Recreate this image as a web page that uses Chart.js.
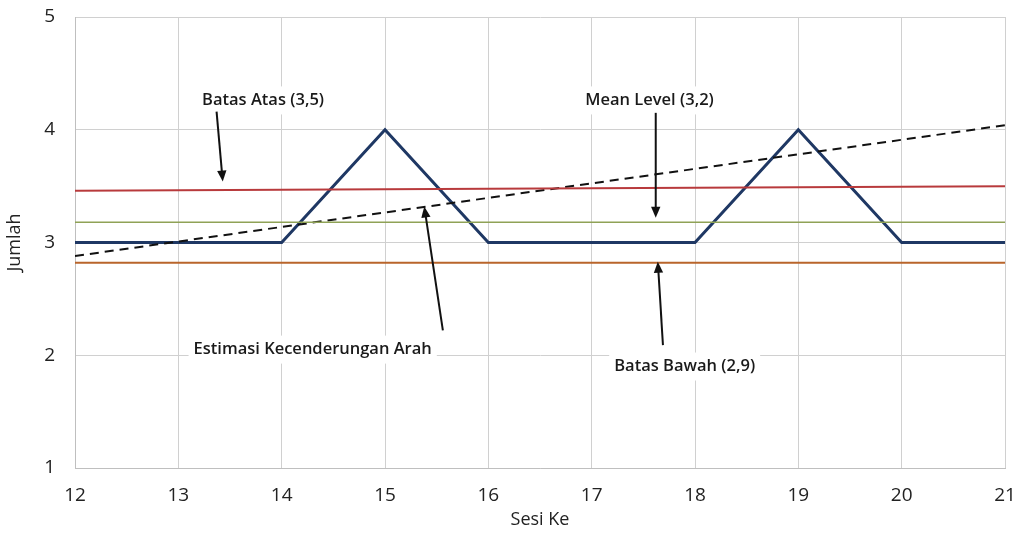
<!DOCTYPE html>
<html>
<head>
<meta charset="utf-8">
<script src="https://cdn.jsdelivr.net/npm/chart.js@4.4.1/dist/chart.umd.min.js"></script>
<style>
  html, body { margin: 0; padding: 0; background: #fff; }
  #wrap { width: 1027px; height: 535px; }
</style>
</head>
<body>
<div id="wrap"><canvas id="chart"></canvas></div>
<script>
// Session numbers and counts
const sessions = [12, 13, 14, 15, 16, 17, 18, 19, 20, 21];
const counts = [3, 3, 3, 4, 3, 3, 3, 4, 3, 3];

// Reference lines (start / end value across the sessions)
const upperLimit = [3.46, 3.5];   // Batas Atas
const meanLevel = [3.18, 3.18];   // Mean Level
const lowerLimit = [2.82, 2.82];  // Batas Bawah
const trendLine = [2.88, 4.04];   // Estimasi Kecenderungan Arah

// Annotation labels: text, label position, arrow tail, arrow tip (data units)
const noteTexts = ['Batas Atas (3,5)', 'Mean Level (3,2)', 'Estimasi Kecenderungan Arah', 'Batas Bawah (2,9)'];
const notePos = [[13.82, 4.26], [17.56, 4.26], [14.30, 2.05], [17.90, 1.90]];
const arrowFrom = [[13.37, 4.16], [17.62, 4.15], [15.56, 2.22], [17.69, 2.09]];
const arrowTo = [[13.43, 3.54], [17.62, 3.22], [15.38, 3.32], [17.64, 2.83]];

const FONT = "'Open Sans', 'Noto Sans', sans-serif";
const first = sessions[0], last = sessions[sessions.length - 1];

function ends(vals) {
    return [{ x: first, y: vals[0] }, { x: last, y: vals[1] }];
}

// Draws the text boxes and arrows on top of the chart
const notesPlugin = {
    id: 'notes',
    afterDatasetsDraw(chart) {
        const { ctx, scales: { x, y } } = chart;
        ctx.save();
        ctx.font = "600 16.5px " + FONT;
        ctx.textAlign = 'center';
        ctx.textBaseline = 'middle';
        noteTexts.forEach((txt, i) => {
            const tx = x.getPixelForValue(notePos[i][0]);
            const ty = y.getPixelForValue(notePos[i][1]);
            const w = ctx.measureText(txt).width + 10;
            ctx.fillStyle = '#fff';
            ctx.fillRect(tx - w / 2, ty - 14, w, 28);
            ctx.fillStyle = '#1a1a1a';
            ctx.fillText(txt, tx, ty);

            const x1 = x.getPixelForValue(arrowFrom[i][0]);
            const y1 = y.getPixelForValue(arrowFrom[i][1]);
            const x2 = x.getPixelForValue(arrowTo[i][0]);
            const y2 = y.getPixelForValue(arrowTo[i][1]);
            const ang = Math.atan2(y2 - y1, x2 - x1);
            const head = 12;
            ctx.strokeStyle = '#111';
            ctx.lineWidth = 2;
            ctx.beginPath();
            ctx.moveTo(x1, y1);
            ctx.lineTo(x2 - Math.cos(ang) * head * 0.8, y2 - Math.sin(ang) * head * 0.8);
            ctx.stroke();
            ctx.fillStyle = '#111';
            ctx.beginPath();
            ctx.moveTo(x2, y2);
            ctx.lineTo(x2 - head * Math.cos(ang - 0.4), y2 - head * Math.sin(ang - 0.4));
            ctx.lineTo(x2 - head * Math.cos(ang + 0.4), y2 - head * Math.sin(ang + 0.4));
            ctx.closePath();
            ctx.fill();
        });
        ctx.restore();
    }
};

const ctx = document.getElementById('chart').getContext('2d');
new Chart(ctx, {
    type: 'line',
    data: {
        datasets: [
            {
                label: 'Batas Atas',
                data: ends(upperLimit),
                borderColor: '#b83a3c',
                borderWidth: 2,
                pointRadius: 0
            },
            {
                label: 'Mean Level',
                data: ends(meanLevel),
                borderColor: '#8fa256',
                borderWidth: 1.5,
                pointRadius: 0
            },
            {
                label: 'Batas Bawah',
                data: ends(lowerLimit),
                borderColor: '#b9652b',
                borderWidth: 2,
                pointRadius: 0
            },
            {
                label: 'Estimasi Kecenderungan Arah',
                data: ends(trendLine),
                borderColor: '#111',
                borderWidth: 2,
                borderDash: [9, 6],
                pointRadius: 0
            },
            {
                label: 'Jumlah',
                data: sessions.map((s, i) => ({ x: s, y: counts[i] })),
                borderColor: '#1f3864',
                borderWidth: 3,
                pointRadius: 0,
                tension: 0
            }
        ]
    },
    options: {
        responsive: true,
        maintainAspectRatio: false,
        animation: false,
        layout: { padding: { top: 17, right: 22, left: 0, bottom: 0 } },
        plugins: {
            legend: { display: false },
            tooltip: { enabled: false }
        },
        scales: {
            x: {
                type: 'linear',
                min: 12,
                max: 21,
                afterFit(scale) {
                    scale.height = 67;
                    scale.paddingLeft = 0;
                    scale.paddingRight = 0;
                },
                ticks: {
                    stepSize: 1,
                    padding: 16,
                    color: '#222',
                    font: { family: FONT, size: 19 }
                },
                grid: { color: '#d0d0d0', lineWidth: 1, drawTicks: false },
                border: { color: '#bfbfbf' },
                title: {
                    display: true,
                    text: 'Sesi Ke',
                    color: '#222',
                    padding: { top: 0 },
                    font: { family: FONT, size: 18 }
                }
            },
            y: {
                min: 1,
                max: 5,
                afterFit(scale) {
                    scale.width = 75;
                    scale.paddingTop = 0;
                    scale.paddingBottom = 0;
                },
                ticks: {
                    stepSize: 1,
                    padding: 20,
                    color: '#222',
                    font: { family: FONT, size: 19 }
                },
                grid: { color: '#d0d0d0', lineWidth: 1, drawTicks: false },
                border: { color: '#bfbfbf' },
                title: {
                    display: true,
                    text: 'Jumlah',
                    color: '#222',
                    padding: { bottom: 0 },
                    font: { family: FONT, size: 18 }
                }
            }
        }
    },
    plugins: [notesPlugin]
});
</script>
</body>
</html>
